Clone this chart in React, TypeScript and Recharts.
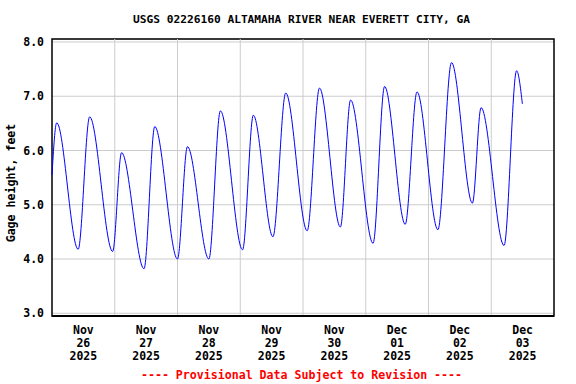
import React from 'react'
import {
  LineChart,
  Line,
  XAxis,
  YAxis,
  CartesianGrid,
  ReferenceLine,
  ReferenceArea
} from 'recharts'

// hours since Nov 26 2025 00:00, high / low tide turning points
const hours = [
  0, 1.8, 10.0, 14.4, 23.2, 26.6, 35.2, 39.3, 48.0, 51.8, 60.0, 64.4, 72.9,
  77.0, 84.5, 89.4, 97.6, 102.3, 110.3, 114.2, 122.8, 127.2, 135.1, 139.6,
  147.6, 152.8, 160.8, 164.1, 172.9, 177.7, 179.9
]
const gageHeight = [
  5.55, 6.51, 4.18, 6.62, 4.14, 5.96, 3.82, 6.44, 4.0, 6.07, 4.0, 6.73, 4.17,
  6.65, 4.41, 7.06, 4.52, 7.15, 4.59, 6.93, 4.29, 7.18, 4.64, 7.08, 4.54,
  7.62, 5.03, 6.79, 4.25, 7.47, 6.86
]

const dayMonths = ['Nov', 'Nov', 'Nov', 'Nov', 'Nov', 'Dec', 'Dec', 'Dec']
const dayNumbers = ['26', '27', '28', '29', '30', '01', '02', '03']
const dayYear = '2025'
const dayBoundaries = [24, 48, 72, 96, 120, 144, 168]
const labelHours = [12, 36, 60, 84, 108, 132, 156, 180]
const yTicks = [3, 4, 5, 6, 7, 8]

const font = '"DejaVu Sans Mono", monospace'

const chartData = hours.map((h, i) => ({ h, value: gageHeight[i] }))

const DayTick = (props: any) => {
  const { x, y, payload } = props
  const idx = labelHours.indexOf(payload.value)
  return (
    <text
      x={x}
      y={y}
      textAnchor="middle"
      fontFamily={font}
      fontWeight="bold"
      fontSize={11.5}
      fill="#000"
    >
      <tspan x={x} dy={18}>{dayMonths[idx]}</tspan>
      <tspan x={x} dy={13}>{dayNumbers[idx]}</tspan>
      <tspan x={x} dy={13}>{dayYear}</tspan>
    </text>
  )
}

const App = () => {
  return (
    <div
      style={{
        position: 'absolute',
        left: 0,
        top: 0,
        width: 576,
        height: 384,
        background: '#fff'
      }}
    >
      <div
        style={{
          position: 'absolute',
          left: 0,
          top: 13,
          width: 603,
          textAlign: 'center',
          fontFamily: font,
          fontWeight: 'bold',
          fontSize: 11.2
        }}
      >
        USGS 02226160 ALTAMAHA RIVER NEAR EVERETT CITY, GA
      </div>
      <div
        style={{
          position: 'absolute',
          left: 11,
          top: 183,
          transform: 'translate(-50%, -50%) rotate(-90deg)',
          whiteSpace: 'nowrap',
          fontFamily: font,
          fontWeight: 'bold',
          fontSize: 11.6
        }}
      >
        Gage height, feet
      </div>
      <LineChart
        width={576}
        height={384}
        data={chartData}
        margin={{ top: 39, right: 22, left: 12, bottom: 0 }}
      >
        <CartesianGrid stroke="#cccccc" vertical={false} />
        {dayBoundaries.map((d) => (
          <ReferenceLine key={d} x={d} stroke="#cccccc" />
        ))}
        <XAxis
          dataKey="h"
          type="number"
          domain={[0, 192]}
          ticks={labelHours}
          tick={<DayTick />}
          tickLine={false}
          axisLine={{ stroke: '#000', strokeWidth: 2 }}
          tickSize={0}
          tickMargin={0}
          height={68}
          interval={0}
        />
        <YAxis
          type="number"
          domain={[2.95, 8.055]}
          ticks={yTicks}
          tickFormatter={(v: number) => v.toFixed(1)}
          tickLine={false}
          axisLine={false}
          width={40}
          tickMargin={2}
          tick={{
            fill: '#000',
            fontFamily: font,
            fontWeight: 'bold',
            fontSize: 11.5
          }}
          interval={0}
        />
        <ReferenceArea
          x1={0}
          x2={192}
          y1={2.95}
          y2={8.055}
          fill="none"
          stroke="#000"
          strokeWidth={1.5}
          fillOpacity={0}
        />
        <Line
          type="monotone"
          dataKey="value"
          stroke="#0000ff"
          strokeWidth={1}
          dot={false}
          isAnimationActive={false}
        />
      </LineChart>
      <div
        style={{
          position: 'absolute',
          left: 0,
          top: 368,
          width: 603,
          textAlign: 'center',
          fontFamily: font,
          fontWeight: 'bold',
          fontSize: 11.6,
          color: '#ff0000'
        }}
      >
        ---- Provisional Data Subject to Revision ----
      </div>
    </div>
  )
}

export default App
